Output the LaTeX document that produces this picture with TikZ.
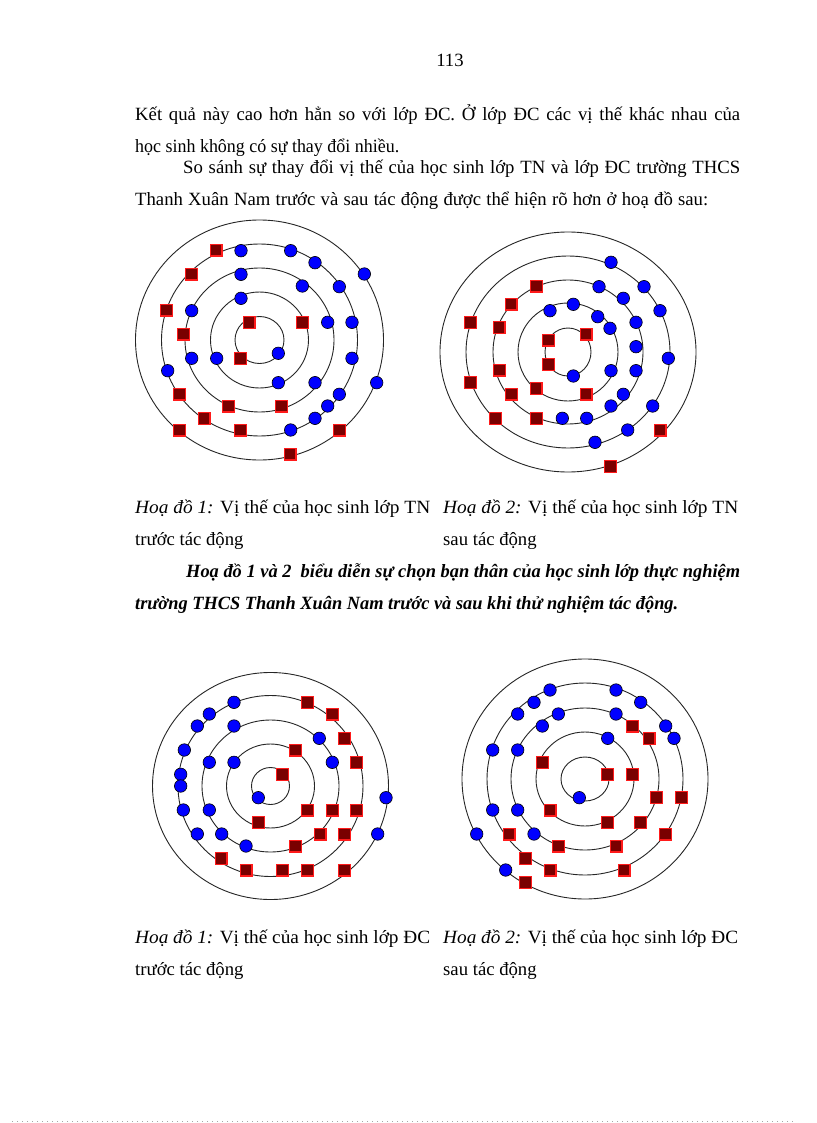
\documentclass[tikz,border=0pt]{standalone}
\usepackage{fontspec}
\setmainfont{Liberation Serif}
\usepackage{graphicx}
\definecolor{sqfill}{HTML}{7A0000}
\definecolor{sqedge}{HTML}{FF1A1A}
\definecolor{dotblue}{HTML}{0000FF}
\newcommand{\fitw}[2]{\resizebox{#1}{\height}{#2}}
\begin{document}
\begin{tikzpicture}[x=1pt,y=-1pt,
  txt/.style={anchor=base west,inner sep=0pt,font=\fontsize{18.7}{22}\selectfont},
  ring/.style={draw=black!85,line width=0.9pt},
  sq/.style={rectangle,draw=sqedge,fill=sqfill,line width=1.2pt,minimum size=11.8pt,inner sep=0pt},
  dt/.style={circle,draw=black,fill=dotblue,line width=0.6pt,minimum size=12.5pt,inner sep=0pt},
  faint/.style={draw=black!35,line width=0.5pt,dash pattern=on 0.6pt off 4.4pt}]
\useasboundingbox (0,0) rectangle (816,1123);
\fill[white] (0,0) rectangle (816,1123);

% ---------- text ----------
\node[txt,anchor=base] (pg) at (450,67) {113};
\node[txt] (l1) at (135,121) {\makebox[605pt][s]{Kết quả này cao hơn hẳn so với lớp ĐC. Ở lớp ĐC các vị thế khác nhau của}};
\node[txt] (l2) at (135,153) {\fitw{264pt}{học sinh không có sự thay đổi nhiều.}};
\node[txt] (l3) at (183,174) {\makebox[557pt][s]{So sánh sự thay đổi vị thế của học sinh lớp TN và lớp ĐC trường THCS}};
\node[txt] (l4) at (135,206) {\makebox[573pt][s]{Thanh Xuân Nam trước và sau tác động được thể hiện rõ hơn ở hoạ đồ sau:}};

\node[txt] (c1a) at (135,513) {\fitw{295pt}{\textit{Hoạ đồ 1:} Vị thế của học sinh lớp TN}};
\node[txt] (c2a) at (443,513) {\fitw{295pt}{\textit{Hoạ đồ 2:} Vị thế của học sinh lớp TN}};
\node[txt] (c1b) at (135,545) {trước tác động};
\node[txt] (c2b) at (443,545) {sau tác động};
\node[txt] (b1) at (186,577) {\fitw{554pt}{\textbf{\textit{Hoạ đồ 1 và 2\ \ biểu diễn sự chọn bạn thân của học sinh lớp thực nghiệm}}}};
\node[txt] (b2) at (135,609) {\fitw{543pt}{\textbf{\textit{trường THCS Thanh Xuân Nam trước và sau khi thử nghiệm tác động.}}}};

\node[txt] (c3a) at (135,943) {\fitw{295pt}{\textit{Hoạ đồ 1:} Vị thế của học sinh lớp ĐC}};
\node[txt] (c4a) at (443,943) {\fitw{295pt}{\textit{Hoạ đồ 2:} Vị thế của học sinh lớp ĐC}};
\node[txt] (c3b) at (135,975) {trước tác động};
\node[txt] (c4b) at (443,975) {sau tác động};

% ---------- rings ----------
% diagram 1
\coordinate (o1) at (259.5,340);
\foreach \rx/\ry in {24.5/23.5,49/48,74.5/72,98/96,124/120}
  \draw[ring] (o1) ellipse [x radius=\rx, y radius=\ry];
% diagram 2
\coordinate (o2) at (568,352);
\foreach \rx/\ry in {23/24,50/49,75/72,102/96,128/120}
  \draw[ring] (o2) ellipse [x radius=\rx, y radius=\ry];
% diagram 3
\coordinate (o3) at (270.5,786);
\foreach \rx/\ry in {19/18.5,44/42,68.5/66,92.5/90.5,118/113.5}
  \draw[ring] (o3) ellipse [x radius=\rx, y radius=\ry];
% diagram 4
\coordinate (o4) at (585,779);
\foreach \rx/\ry in {24/22,49/47,74/71,98/96,123/120}
  \draw[ring] (o4) ellipse [x radius=\rx, y radius=\ry];

% ---------- markers: diagram 1 ----------
\foreach \x/\y [count=\i] in {216/250,191.7/274,166.7/310,183.3/334,249/322.3,302.3/322.3,240.7/358.3,179.3/394,204/418.3,228.3/406,281.7/406,179.3/430,240.7/430,339.3/430,290/454}
  \node[sq] (a\i) at (\x,\y) {};
\foreach \x/\y [count=\i] in {241/250.7,290.7/250.7,315/262.7,364.3/274,241/274.3,302.3/286,339.3/286.7,191.7/310.7,241/298.3,327.7/322.3,352/322.3,191.7/358.3,216.7/358.3,278.3/353.3,352/358.3,167.7/370.7,278.3/382.7,315/382.7,376.7/382.7,339.3/394.3,327.7/406,315/418.3,290.7/430}
  \node[dt] (ad\i) at (\x,\y) {};

% ---------- markers: diagram 2 ----------
\foreach \x/\y [count=\i] in {536.7/286,511/304,470.7/322.3,499/327.7,548.3/340,586/334,548.3/364.3,499.3/370,470.7/382.3,511.7/394,536/388.3,586/394,495.7/418.3,536.7/418.3,660/430,610.7/466.7}
  \node[sq] (b\i) at (\x,\y) {};
\foreach \x/\y [count=\i] in {611/262.3,644/286.7,599/286.7,623.3/298.3,660/310.7,573.3/304.3,550/310.7,597.7/316.7,610/328.3,636/322.3,636/346.7,668.3/358.3,611/370.7,636/370.7,573.3/376,623.3/394.3,611/406,652.7/406,562.3/418.3,586.7/418.3,627.7/430,595/442.3}
  \node[dt] (bd\i) at (\x,\y) {};

% ---------- markers: diagram 3 ----------
\foreach \x/\y [count=\i] in {307.7/702.3,332.3/714,344.3/738.3,295.7/750,356.7/762.3,282.3/774.3,307.7/810,332.3/810,356.7/810,258.3/822.3,320/834,344.3/834,295.7/846,221/858.3,246/870,282.7/870,307.7/870,344.3/870}
  \node[sq] (c\i) at (\x,\y) {};
\foreach \x/\y [count=\i] in {234/702.3,209.3/714,197.3/726,234/726,319.3/738.3,184.3/750,209.3/762.3,234/762.3,332.3/762.3,180.7/774.3,180.7/786,258.3/797.7,386/797.7,183.3/810,209.3/810,197.3/834,221.7/834,377.7/834,246/846}
  \node[dt] (cd\i) at (\x,\y) {};

% ---------- markers: diagram 4 ----------
\foreach \x/\y [count=\i] in {632.3/726,649/738.3,542.3/762.3,607.7/774.3,632.3/774.3,656.7/797.7,681.7/797.7,550/810,607.7/822.3,640.7/822.3,509/834,558.3/846,616/846,665.7/834,525.7/858.3,550/870,624/870,525.7/882.3}
  \node[sq] (d\i) at (\x,\y) {};
\foreach \x/\y [count=\i] in {550/690,616/690,534/702.3,640.7/702.3,517.7/714,558.3/714,616/714,542.3/726,665.7/726,674/738.3,607.7/738.3,492.7/750,517.7/750,579.3/797.7,492.7/810,517.7/810,476.7/834,534/834,505.7/870}
  \node[dt] (dd\i) at (\x,\y) {};

% faint dotted rule at page bottom
\coordinate (fl) at (12,1121.5);
\coordinate (fr) at (796,1121.5);
\draw[faint] (fl) -- (fr);
\end{tikzpicture}
\end{document}
